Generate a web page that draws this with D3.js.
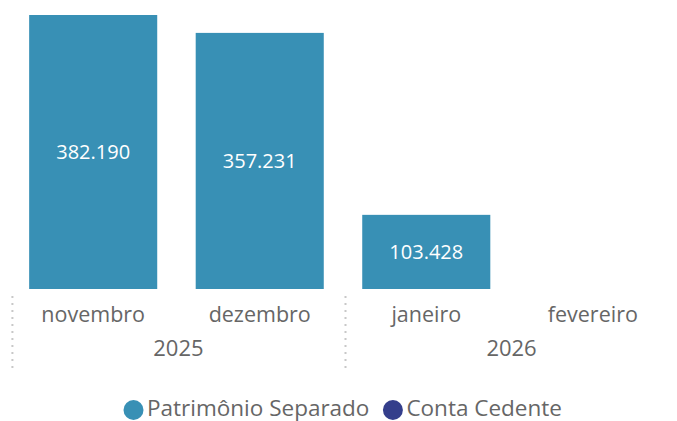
<!DOCTYPE html>
<html>
<head>
<meta charset="utf-8">
<script src="https://cdn.jsdelivr.net/npm/d3@7"></script>
<style>
  body { margin: 0; background: #fff; }
  svg text { font-family: "Segoe UI", "Open Sans", sans-serif; }
</style>
</head>
<body>
<svg id="chart" width="677" height="421"></svg>
<script>
// Data
const months = ['novembro', 'dezembro', 'janeiro', 'fevereiro'];
const monthYears = ['2025', '2025', '2026', '2026'];
const years = ['2025', '2026'];
const patrimonio = [382.190, 357.231, 103.428, null];
const contaCedente = [null, null, null, null];
const seriesNames = ['Patrimônio Separado', 'Conta Cedente'];
const seriesColors = ['#3890b5', '#343e8b'];

const svg = d3.select('#chart');
const baseY = 289;
const topY = 15;

// Scales
const x = d3.scaleBand()
    .domain(months)
    .range([10, 676])
    .paddingInner(0.231)
    .paddingOuter(0.115);

const y = d3.scaleLinear()
    .domain([0, d3.max(patrimonio)])
    .range([baseY, topY]);

// Label format like "382.190"
function label(v) {
    return v.toFixed(3);
}

const rows = months.map((m, i) => ({ month: m, p: patrimonio[i], c: contaCedente[i] }));

// Bars (Patrimônio Separado)
svg.selectAll('.bar')
    .data(rows.filter(d => d.p != null))
    .enter()
    .append('rect')
    .attr('class', 'bar')
    .attr('x', d => x(d.month))
    .attr('y', d => y(d.p))
    .attr('width', x.bandwidth())
    .attr('height', d => baseY - y(d.p))
    .attr('fill', seriesColors[0]);

// Conta Cedente stacked on top (empty here)
svg.selectAll('.bar2')
    .data(rows.filter(d => d.c != null))
    .enter()
    .append('rect')
    .attr('class', 'bar2')
    .attr('x', d => x(d.month))
    .attr('y', d => y((d.p || 0) + d.c))
    .attr('width', x.bandwidth())
    .attr('height', d => y(d.p || 0) - y((d.p || 0) + d.c))
    .attr('fill', seriesColors[1]);

// Data labels
svg.selectAll('.value-label')
    .data(rows.filter(d => d.p != null))
    .enter()
    .append('text')
    .attr('class', 'value-label')
    .attr('x', d => x(d.month) + x.bandwidth() / 2)
    .attr('y', d => (y(d.p) + baseY) / 2)
    .attr('dy', '0.35em')
    .attr('text-anchor', 'middle')
    .attr('fill', '#ffffff')
    .attr('font-size', 20)
    .text(d => label(d.p));

// Month labels
svg.selectAll('.month-label')
    .data(months)
    .enter()
    .append('text')
    .attr('class', 'month-label')
    .attr('x', d => x(d) + x.bandwidth() / 2)
    .attr('y', 322)
    .attr('text-anchor', 'middle')
    .attr('fill', '#666666')
    .attr('font-size', 21.5)
    .text(d => d);

// Year labels + separators
const pad = (x.step() - x.bandwidth()) / 2;
years.forEach(yr => {
    const ms = months.filter((m, i) => monthYears[i] === yr);
    const first = ms[0];
    const last = ms[ms.length - 1];
    const cx = (x(first) + x(last) + x.bandwidth()) / 2;
    svg.append('text')
        .attr('x', cx + 2)
        .attr('y', 356)
        .attr('text-anchor', 'middle')
        .attr('fill', '#666666')
        .attr('font-size', 22)
        .text(yr);

    svg.append('line')
        .attr('x1', x(first) - pad + 2.5)
        .attr('x2', x(first) - pad + 2.5)
        .attr('y1', 296)
        .attr('y2', 369)
        .attr('stroke', '#c8c8c8')
        .attr('stroke-width', 2)
        .attr('stroke-dasharray', '2,5');
});

// Legend
const legend = svg.append('g').attr('class', 'legend');
let lx = 124;
seriesNames.forEach((name, i) => {
    legend.append('circle')
        .attr('cx', lx + 9.5)
        .attr('cy', 410)
        .attr('r', 10)
        .attr('fill', seriesColors[i]);
    const t = legend.append('text')
        .attr('x', lx + 23)
        .attr('y', 415.5)
        .attr('fill', '#666666')
        .attr('font-size', 22.5)
        .text(name);
    lx += 23 + t.node().getComputedTextLength() + 14;
});
</script>
</body>
</html>
